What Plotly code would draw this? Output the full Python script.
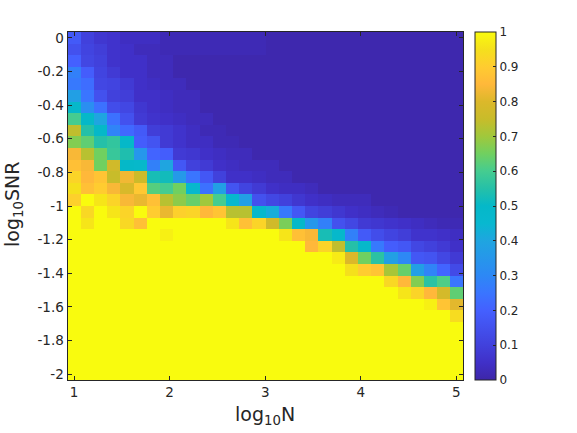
import plotly.graph_objects as go

# log10 N runs 1..5, log10 SNR runs 0..-2, 30 steps each
log_n = [1 + 4 * i / 29 for i in range(30)]
log_snr = [-2 * i / 29 for i in range(30)]

# one row per SNR level, top of the picture first
row_00 = [.18, .10, .07, .06, .04, .04, .04, .02, .02, .02, .02, .02, .02, .02, .02] + [.01] * 15
row_01 = [.15, .11, .09, .06, .05, .03, .03, .02, .02, .02, .02, .02, .02, .02, .02] + [.01] * 15
row_02 = [.20, .12, .10, .06, .05, .05, .03, .03, .01, .01, .01, .01, .01, .01, .01] + [.01] * 15
row_03 = [.28, .19, .11, .08, .05, .05, .03, .03, .01, .01, .01, .01, .01, .01, .01] + [.01] * 15
row_04 = [.26, .23, .12, .11, .08, .05, .04, .03, .03, .01, .01, .01, .01, .01, .01] + [.01] * 15
row_05 = [.38, .25, .15, .10, .09, .05, .05, .04, .03, .03, .01, .01, .01, .01, .01] + [.01] * 15
row_06 = [.49, .32, .24, .14, .12, .07, .05, .04, .03, .03, .01, .01, .01, .01, .01] + [.01] * 15
row_07 = [.60, .50, .40, .24, .15, .08, .06, .05, .04, .03, .03, .01, .01, .01, .01] + [.01] * 15
row_08 = [.74, .55, .50, .29, .22, .18, .09, .08, .06, .04, .02, .02, .01, .01, .01] + [.01] * 15
row_09 = [.67, .63, .55, .57, .50, .19, .16, .08, .06, .04, .04, .02, .02, .01, .01] + [.01] * 15
row_10 = [.84, .73, .65, .58, .54, .35, .21, .19, .08, .07, .05, .04, .03, .03, .01] + [.01] * 15
row_11 = [.87, .84, .65, .77, .50, .49, .28, .40, .17, .10, .08, .05, .04, .03, .03, .03] + [.01] * 14
row_12 = [.92, .85, .88, .75, .83, .76, .53, .52, .36, .25, .17, .10, .05, .05, .04, .03, .03] + [.01] * 13
row_13 = [.95, .87, .90, .84, .79, .89, .62, .60, .65, .47, .24, .38, .16, .11, .08, .05, .04, .04, .03] + [.01] * 11
row_14 = [.91, 1, .96, .92, .84, .82, .87, .73, .68, .64, .70, .60, .47, .38, .15, .12, .10, .07, .05, .04, .03, .03, .03] + [.01] * 7
row_15 = [1, .93, 1, .96, .92, 1, .90, .82, .91, .92, .85, .88, .73, .73, .48, .42, .26, .17, .11, .09, .07, .05, .04, .03, .02, .01, .01, .01, .01, .01]
row_16 = [1, .96, 1, 1, .93, .87, 1, 1, 1, 1, 1, 1, .96, .87, .92, .77, .66, .50, .35, .28, .15, .12, .08, .07, .06, .05, .04, .03, .02, .02]
row_17 = [1, 1, 1, 1, 1, 1, 1, .98, 1, 1, 1, 1, 1, 1, 1, 1, .96, .87, .84, .53, .48, .28, .18, .14, .11, .09, .06, .06, .05, .04]
row_18 = [1] * 17 + [1, .85, .92, .74, .55, .49, .26, .19, .17, .12, .10, .08, .05]
row_19 = [1] * 20 + [.97, .80, .65, .56, .38, .30, .17, .16, .12, .08]
row_20 = [1] * 21 + [.95, .90, .88, .71, .64, .38, .29, .21, .13]
row_21 = [1] * 24 + [.93, .85, .67, .56, .61, .25]
row_22 = [1] * 25 + [.96, .92, .85, .78, .63]
row_23 = [1] * 27 + [.98, .88, .81]
row_24 = [1] * 29 + [.94]
row_25 = [1] * 30
row_26 = [1] * 30
row_27 = [1] * 30
row_28 = [1] * 30
row_29 = [1] * 30

success = [row_00, row_01, row_02, row_03, row_04, row_05, row_06, row_07, row_08, row_09,
           row_10, row_11, row_12, row_13, row_14, row_15, row_16, row_17, row_18, row_19,
           row_20, row_21, row_22, row_23, row_24, row_25, row_26, row_27, row_28, row_29]

x_ticks = [1, 2, 3, 4, 5]
x_labels = ["1", "2", "3", "4", "5"]
y_ticks = [0, -0.2, -0.4, -0.6, -0.8, -1, -1.2, -1.4, -1.6, -1.8, -2]
y_labels = ["0", "-0.2", "-0.4", "-0.6", "-0.8", "-1", "-1.2", "-1.4", "-1.6", "-1.8", "-2"]
bar_ticks = [0, .1, .2, .3, .4, .5, .6, .7, .8, .9, 1]
bar_labels = ["0", "0.1", "0.2", "0.3", "0.4", "0.5", "0.6", "0.7", "0.8", "0.9", "1"]

colors = [[0, "#3d26a8"], [.05, "#4030c8"], [.1, "#4141dc"], [.2, "#4460ff"], [.25, "#3a75ff"],
          [.3, "#2d88f5"], [.4, "#1fa5e0"], [.45, "#08b8d0"], [.5, "#05b8c8"], [.55, "#25c0a8"],
          [.6, "#45cc90"], [.65, "#70d060"], [.7, "#a0c83c"], [.75, "#c8bc2a"], [.8, "#dcb82a"],
          [.85, "#ffb83a"], [.9, "#ffcc30"], [.95, "#f5e01c"], [1, "#f9fb0e"]]

FONT = "DejaVu Sans"
INK = "#262626"

fig = go.Figure(go.Heatmap(
    x=log_n, y=log_snr, z=success, zmin=0, zmax=1, colorscale=colors,
    colorbar=dict(
        x=475 / 577, xanchor="left", thickness=21, thicknessmode="pixels",
        y=(433 - 380) / 433, yanchor="bottom", len=348 / 433, lenmode="fraction",
        xpad=0, ypad=0, outlinecolor=INK, outlinewidth=1,
        ticks="inside", ticklen=3, tickcolor=INK,
        tickvals=bar_ticks, ticktext=bar_labels,
        tickfont=dict(family=FONT, size=12, color=INK),
    ),
))

fig.update_layout(
    width=577, height=433, autosize=False,
    margin=dict(l=0, r=0, t=0, b=0, autoexpand=False),
    paper_bgcolor="white", plot_bgcolor="white",
    font=dict(family=FONT, color=INK),
)
fig.update_xaxes(
    domain=[67.5 / 577, 463 / 577], range=[1 - 2 / 29, 5 + 2 / 29],
    tickvals=x_ticks, ticktext=x_labels, ticks="inside", ticklen=4, tickcolor=INK,
    tickfont=dict(size=13.5, color=INK), showgrid=False, zeroline=False,
    showline=True, linecolor=INK, linewidth=1, mirror="ticks",
)
fig.update_yaxes(
    domain=[(433 - 380) / 433, (433 - 32) / 433], range=[-2 - 1 / 29, 1 / 29],
    tickvals=y_ticks, ticktext=y_labels, ticks="inside", ticklen=4, tickcolor=INK,
    tickfont=dict(size=13.5, color=INK), showgrid=False, zeroline=False,
    showline=True, linecolor=INK, linewidth=1, mirror="ticks",
)
# axis titles placed by hand, plotly's own ones would not sit this far out with zero margins
fig.add_annotation(text="log<sub>10</sub>N", xref="paper", yref="paper", x=265 / 577, y=(433 - 415) / 433,
                   xanchor="center", yanchor="middle", showarrow=False, font=dict(size=19, color=INK))
fig.add_annotation(text="log<sub>10</sub>SNR", xref="paper", yref="paper", x=13 / 577, y=(433 - 205) / 433,
                   xanchor="center", yanchor="middle", showarrow=False, textangle=-90,
                   font=dict(size=19, color=INK))

# page body margin would push everything 8px off
fig.write_html("out.html", config=dict(displayModeBar=False), post_script="document.body.style.margin='0';")
